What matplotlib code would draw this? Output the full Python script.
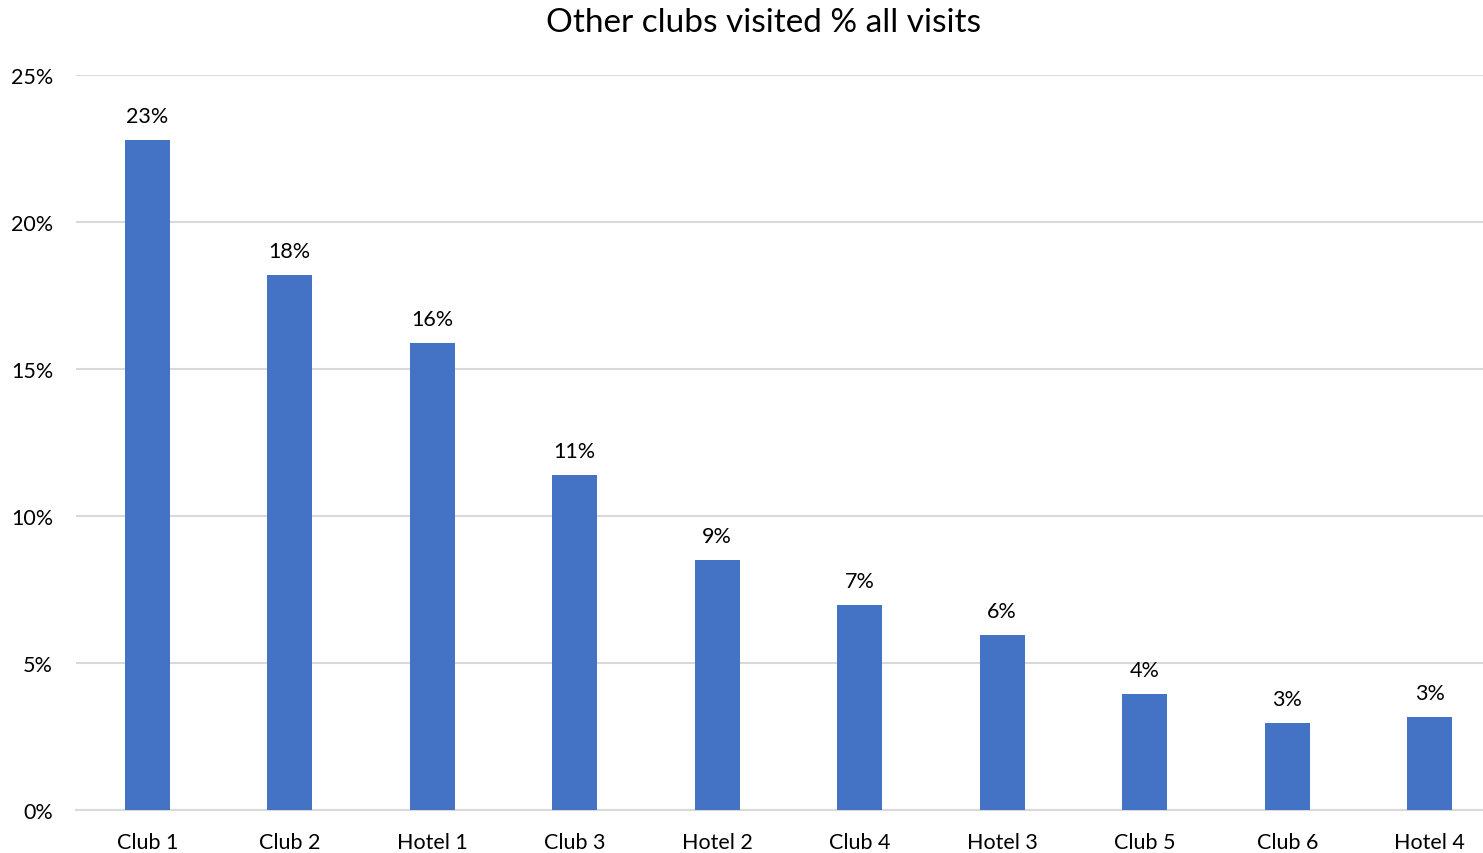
import matplotlib
matplotlib.use("Agg")
import matplotlib.pyplot as plt
from matplotlib.ticker import FuncFormatter

# datos: porcentaje de visitas a otros clubes
lugares = ["Club 1", "Club 2", "Hotel 1", "Club 3", "Hotel 2",
           "Club 4", "Hotel 3", "Club 5", "Club 6", "Hotel 4"]
porcentajes = [22.8, 18.2, 15.9, 11.4, 8.52, 6.97, 5.95, 3.95, 2.96, 3.16]
ticks_y = [0, 5, 10, 15, 20, 25]

plt.rcParams["font.family"] = ["Lato", "DejaVu Sans"]

fig = plt.figure(figsize=(14.83, 8.54), dpi=100)
ax = fig.add_axes([76 / 1483, 1 - 811 / 854, 1 - 76 / 1483, (811 - 76) / 854])

x = range(len(lugares))
ax.bar(x, porcentajes, width=0.315, color="#4472C4", zorder=3)

for xi, v in zip(x, porcentajes):
    ax.annotate(f"{v:.0f}%", (xi, v), xytext=(0, 10), textcoords="offset points",
                ha="center", va="bottom", fontsize=15.5, color="#000000")

ax.set_ylim(0, 25)
ax.set_xlim(-0.5, 9.374)
ax.set_yticks(ticks_y)
ax.yaxis.set_major_formatter(FuncFormatter(lambda v, p: f"{v:.0f}%"))
ax.set_xticks(list(x))
ax.set_xticklabels(lugares)
ax.grid(axis="y", color="#D9D9D9", linewidth=1.5, zorder=0)
ax.tick_params(axis="both", length=0, labelsize=15.5, colors="#000000")
ax.tick_params(axis="y", pad=16.5)
ax.tick_params(axis="x", pad=16)
for s in ["top", "right", "left"]:
    ax.spines[s].set_visible(False)
ax.spines["bottom"].set_color("#D9D9D9")
ax.spines["bottom"].set_linewidth(1.5)

fig.text(763 / 1483, 1 - 23 / 854, "Other clubs visited % all visits",
         ha="center", va="center", fontsize=24, color="#000000")

fig.savefig("out.png", dpi=100)
